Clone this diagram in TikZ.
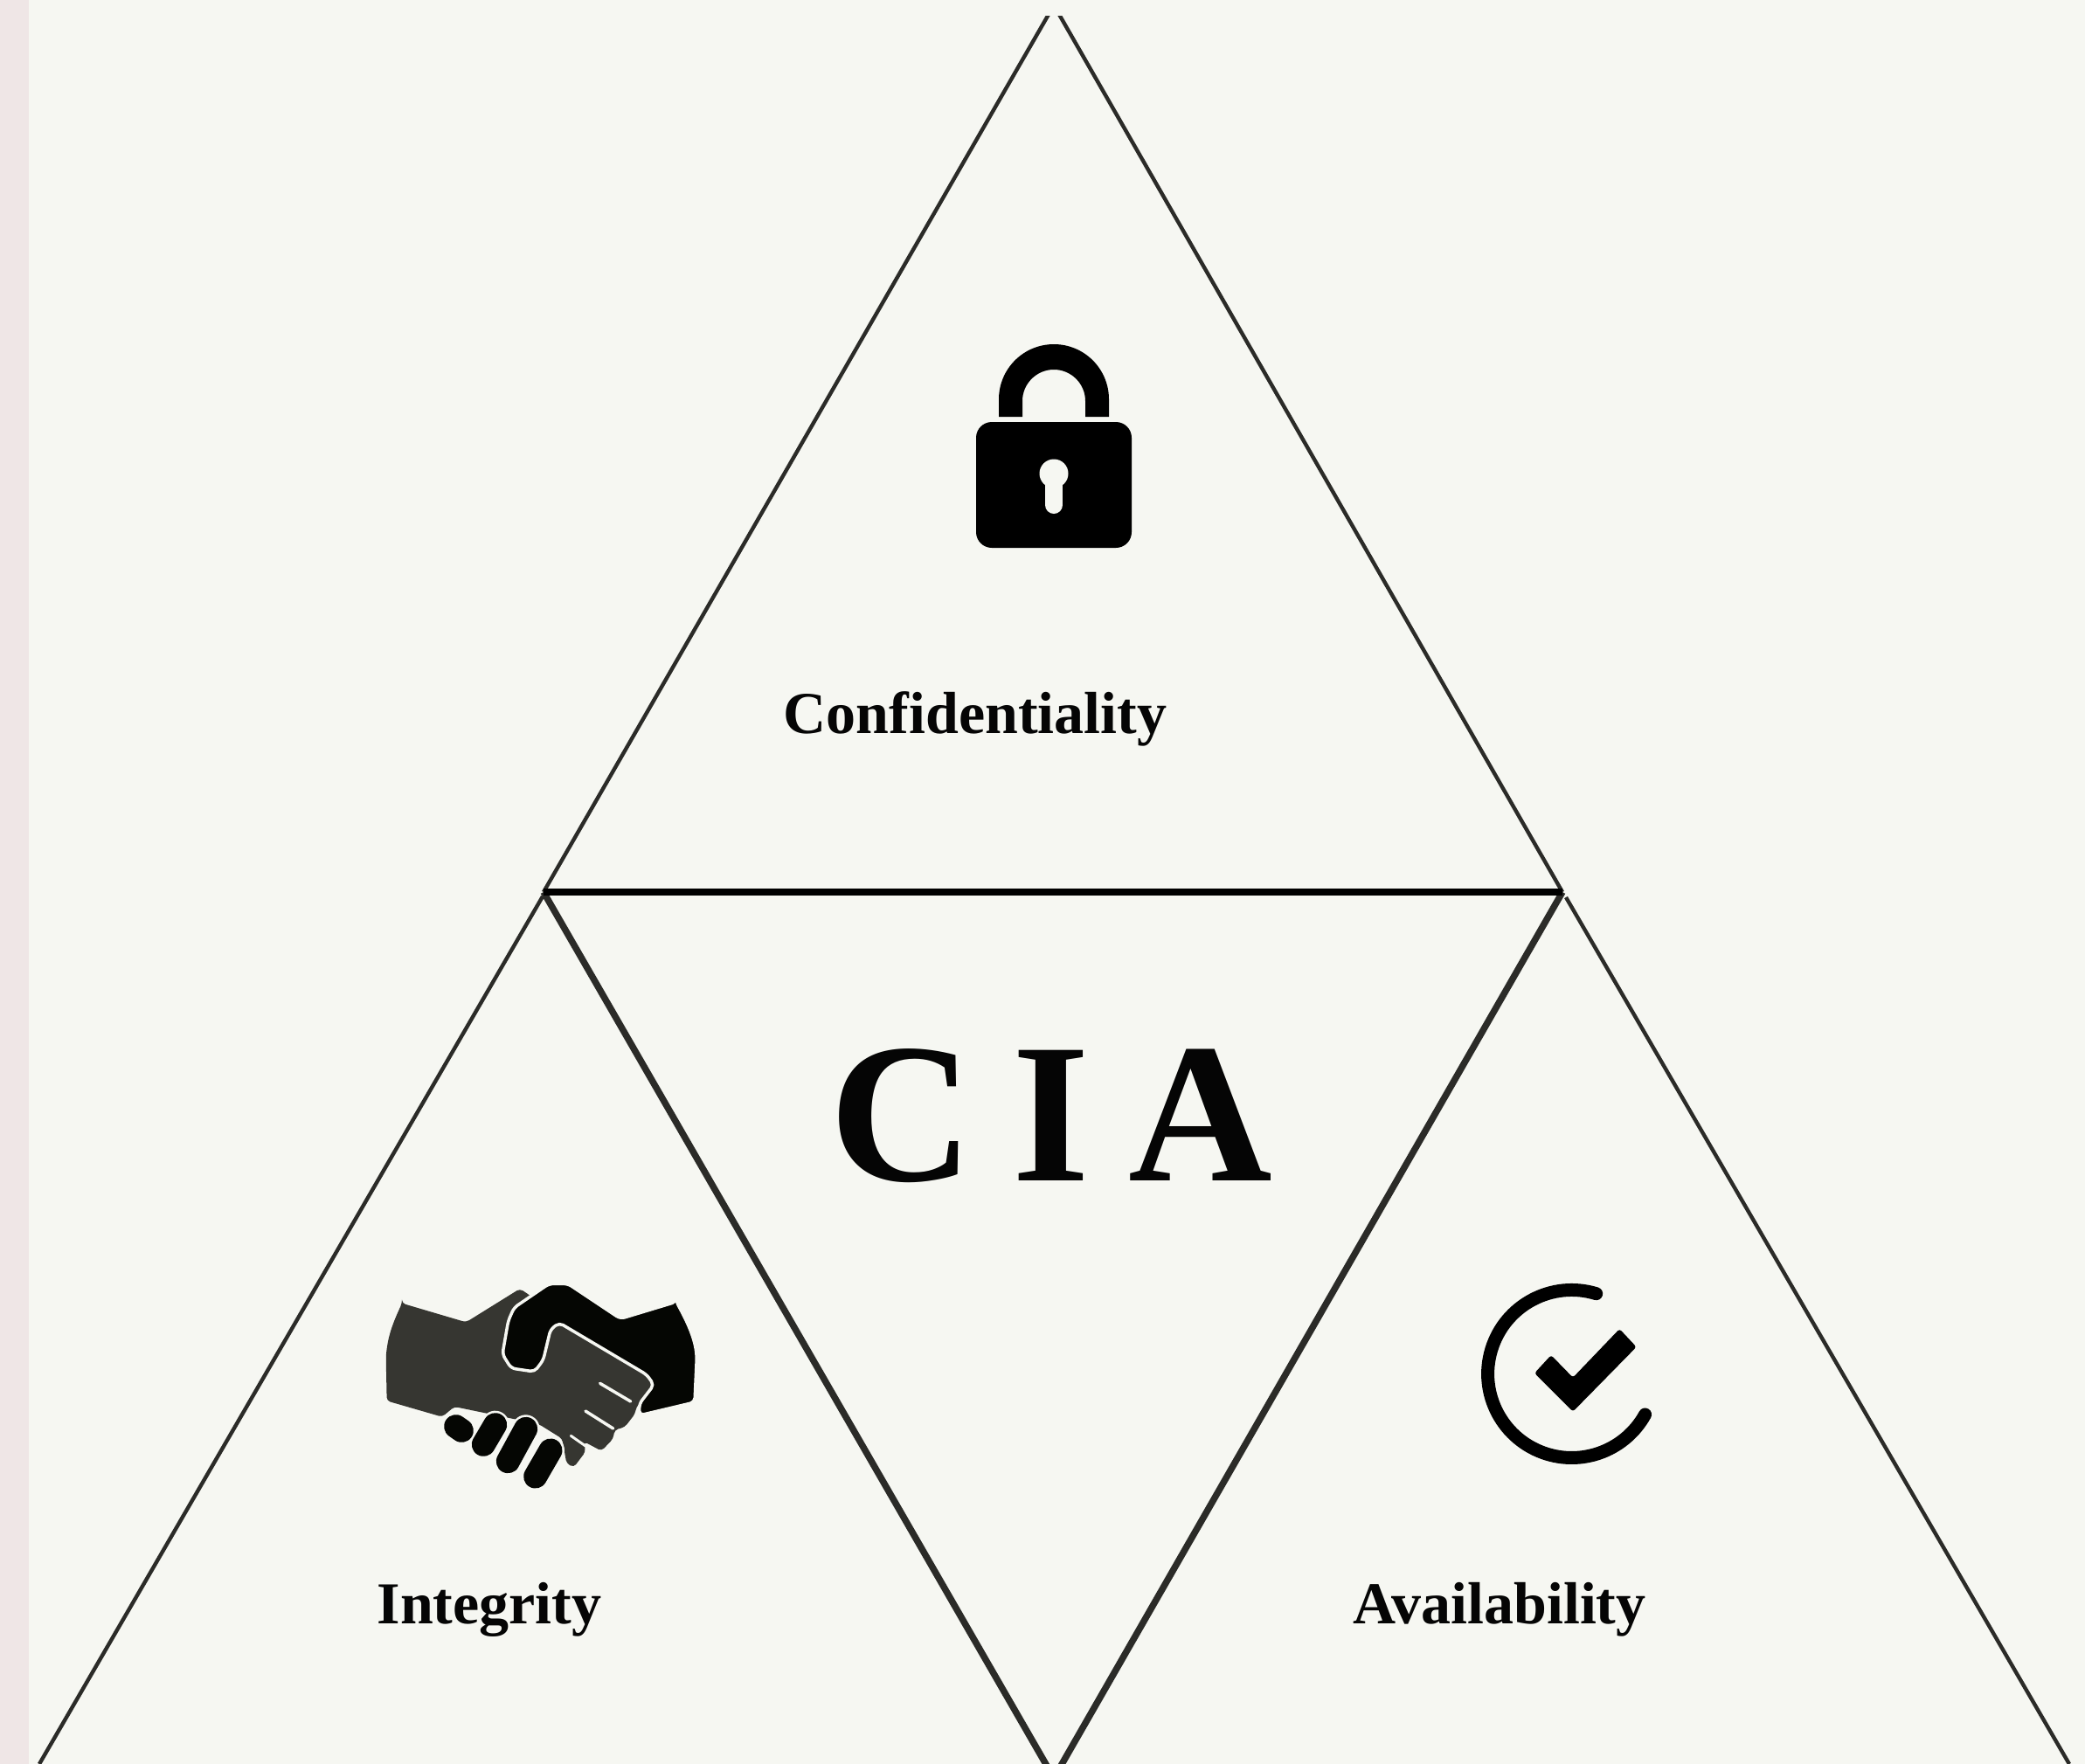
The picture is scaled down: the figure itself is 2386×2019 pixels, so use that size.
\documentclass[tikz,border=0pt]{standalone}
\usepackage{fontspec}
\setmainfont{Liberation Serif}
\definecolor{paper}{HTML}{F6F7F2}
\definecolor{strip}{HTML}{EFE6E6}
\definecolor{ink}{HTML}{2B2B28}
\definecolor{handgrey}{HTML}{363631}
\definecolor{handblack}{HTML}{050603}
\definecolor{txt}{HTML}{050505}
\tikzset{
  thinedge/.style={draw=ink,line width=4.4pt,line join=miter},
  thickedge/.style={draw=ink,line width=7.5pt},
  baseedge/.style={draw=black,line width=7.5pt},
  lbl/.style={anchor=base,inner sep=0pt,outer sep=0pt,text=txt,font=\fontsize{68}{80}\selectfont\bfseries},
  fingerback/.style={draw=paper,line width=32pt,line cap=round},
  fingerfront/.style={draw=handblack,line width=27pt,line cap=round},
}
\begin{document}
\begin{tikzpicture}[x=1pt,y=-1pt]
\useasboundingbox (0,0) rectangle (2386,2019);
\fill[paper] (0,0) rectangle (2386,2019);
\begin{scope}
\clip (33,18) rectangle (2386,2019);
\coordinate (apex) at (1206,6);
\coordinate (bl) at (622,1021);
\coordinate (br) at (1788,1021);
\coordinate (vtip) at (1206,2035);
\coordinate (lleft) at (45,2019);
\coordinate (lapex) at (621,1026);
\coordinate (rapex) at (1792,1027);
\coordinate (rright) at (2368,2019);
\draw[thinedge] (apex) -- (bl);
\draw[thinedge] (apex) -- (br);
\draw[thinedge] (lapex) -- (lleft);
\draw[thinedge] (rapex) -- (rright);
\draw[thickedge] (bl) -- (vtip);
\draw[thickedge] (br) -- (vtip);
\draw[baseedge] (bl) -- (br);
\end{scope}
\fill[strip] (0,0) rectangle (33,2019);
% texts
\node[lbl] (conf) at (1116,839) {Confidentiality};
\node[lbl] (integ) at (560,1858) {Integrity};
\node[lbl] (avail) at (1716,1858) {Availability};
\node[anchor=base,inner sep=0pt,text=txt,font=\fontsize{228}{260}\selectfont\bfseries] (cia) at (1203,1351) {\spaceskip=44pt C I A};
% lock
\fill[black,rounded corners=18pt] (1117,483) rectangle (1295,627);
\fill[black] (1143,477) -- (1143,457) arc[start angle=180,end angle=360,radius=63] -- (1269,477) -- (1242,477) -- (1242,459) arc[start angle=360,end angle=180,radius=36] -- (1170,477) -- cycle;
\fill[paper] (1206,542) circle (16.5);
\draw[paper,line width=20pt,line cap=round] (1206,550) -- (1206,578);
% handshake
\begin{scope}[shift={(420,1440)},x=0.33333pt,y=-0.33333pt]
\fill[handgrey,rounded corners=4pt] (120,155) -- (340,220) -- (525,105) -- (555,125) -- (680,220) -- (975,400) -- (990,440) -- (925,510) -- (920,535) -- (885,580) -- (850,590) -- (845,620) -- (805,662) -- (745,630) -- (750,665) -- (710,718) -- (685,705) -- (670,620) -- (590,570) -- (300,510) -- (258,545) -- (68,490) -- (65,340) .. controls (72,260) and (95,210) .. (120,155) -- cycle;
\draw[paper,line width=3.5pt,line cap=round] (800,430) -- (905,492);
\draw[paper,line width=3.5pt,line cap=round] (750,525) -- (845,585);
\draw[paper,line width=3pt,line cap=round] (700,610) -- (750,645);
\draw[paper,line width=3.5pt,fill=handblack,line join=round,rounded corners=5pt] (1062,150) -- (870,208) -- (690,88) -- (625,88) -- (505,170) -- (485,215) -- (465,330) -- (495,378) -- (575,390) -- (605,350) -- (630,245) -- (660,222) -- (960,400) -- (985,435) -- (935,500) -- (935,540) -- (1125,495) -- (1132,340) .. controls (1125,270) and (1095,210) .. (1062,150) -- cycle;
\draw[fingerback] (305,578) -- (325,592);
\draw[fingerback] (440,572) -- (400,640);
\draw[fingerback] (545,586) -- (484,698);
\draw[fingerback] (630,660) -- (578,750);
\draw[fingerfront] (305,578) -- (325,592);
\draw[fingerfront] (440,572) -- (400,640);
\draw[fingerfront] (545,586) -- (484,698);
\draw[fingerfront] (630,660) -- (578,750);
\end{scope}
% check icon
\begin{scope}[shift={(1670,1440)},x=0.33333pt,y=-0.33333pt]
\draw[black,line width=15pt,line cap=round] (470,122) arc[start angle=-73,end angle=-331,radius=288];
\fill[black,rounded corners=3pt] (315,333) -- (258,395) -- (390,527) -- (608,305) -- (550,243) -- (390,410) -- cycle;
\end{scope}
\end{tikzpicture}
\end{document}
